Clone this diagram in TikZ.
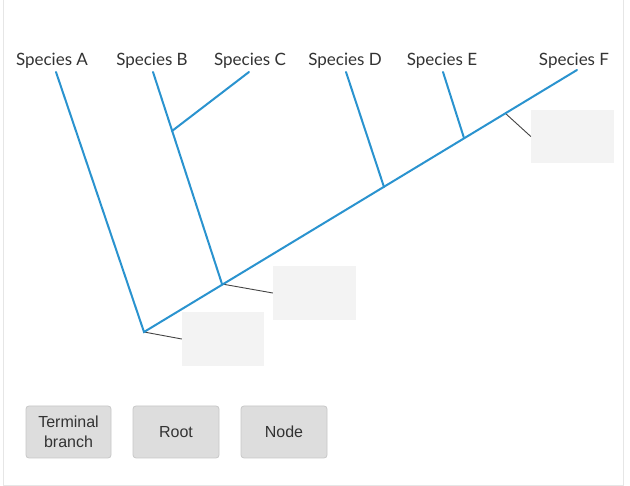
\documentclass[tikz,border=0pt]{standalone}
\usepackage{fontspec}
\setmainfont{Lato}
\newfontfamily\btnfont{Liberation Sans}
\definecolor{treeblue}{HTML}{2A93CF}
\definecolor{txtgray}{HTML}{333333}
\definecolor{boxgray}{HTML}{F3F3F3}
\definecolor{btnfill}{HTML}{DDDDDD}
\definecolor{btnline}{HTML}{C8C8C8}
\definecolor{framegray}{HTML}{E6E6E6}
\definecolor{leader}{HTML}{444444}
\begin{document}
\begin{tikzpicture}[x=1pt,y=-1pt,
  branch/.style={draw=treeblue,line width=2pt,line cap=round},
  leaderline/.style={draw=leader,line width=0.9pt},
  species/.style={font=\fontsize{17}{19}\selectfont,text=txtgray,inner sep=0pt},
  blank/.style={fill=boxgray,draw=none},
  btn/.style={draw=btnline,fill=btnfill,rounded corners=3pt,line width=0.8pt,
    font=\btnfont\fontsize{16}{19.5}\selectfont,text=txtgray,align=center,inner sep=0pt}]
\useasboundingbox (0,0) rectangle (630,486);
\fill[white] (0,0) rectangle (630,486);
\draw[framegray,line width=0.8pt] (3,0) -- (3,485.5) -- (623,485.5) -- (623,0);
% tree coordinates
\coordinate (root) at (144,332);
\coordinate (ta) at (56,72);
\coordinate (tf) at (577,70);
\coordinate (nab) at (222,284);
\coordinate (tb) at (153,72);
\coordinate (nbc) at (172,131);
\coordinate (tc) at (249,72);
\coordinate (nd) at (384,187);
\coordinate (td) at (346,72);
\coordinate (ne) at (464,138);
\coordinate (te) at (443,72);
\coordinate (nf) at (505,113);
% labels
\node[species] (la) at (52,61) {Species A};
\node[species] (lb) at (152,61) {Species B};
\node[species] (lc) at (250,61) {Species C};
\node[species] (ld) at (345,61) {Species D};
\node[species] (le) at (442,61) {Species E};
\node[species] (lf) at (574,61) {Species F};
% blank boxes
\node[blank,minimum width=82pt,minimum height=54pt] (b1) at (223,339) {};
\node[blank,minimum width=83pt,minimum height=54pt] (b2) at (314.5,293) {};
\node[blank,minimum width=83pt,minimum height=53pt] (b3) at (572.5,136.5) {};
% leader lines
\draw[leaderline] (root) -- (b1.west);
\draw[leaderline] (nab) -- (b2.west);
\draw[leaderline] (nf) -- (b3.west);
% branches
\draw[branch] (ta) -- (root) -- (tf);
\draw[branch] (nab) -- (tb);
\draw[branch] (nbc) -- (tc);
\draw[branch] (nd) -- (td);
\draw[branch] (ne) -- (te);
% buttons
\node[btn,minimum width=85pt,minimum height=52pt] (btn1) at (68.5,432) {Terminal\\branch};
\node[btn,minimum width=86pt,minimum height=52pt] (btn2) at (176,432) {Root};
\node[btn,minimum width=86pt,minimum height=52pt] (btn3) at (284,432) {Node};
\end{tikzpicture}
\end{document}
